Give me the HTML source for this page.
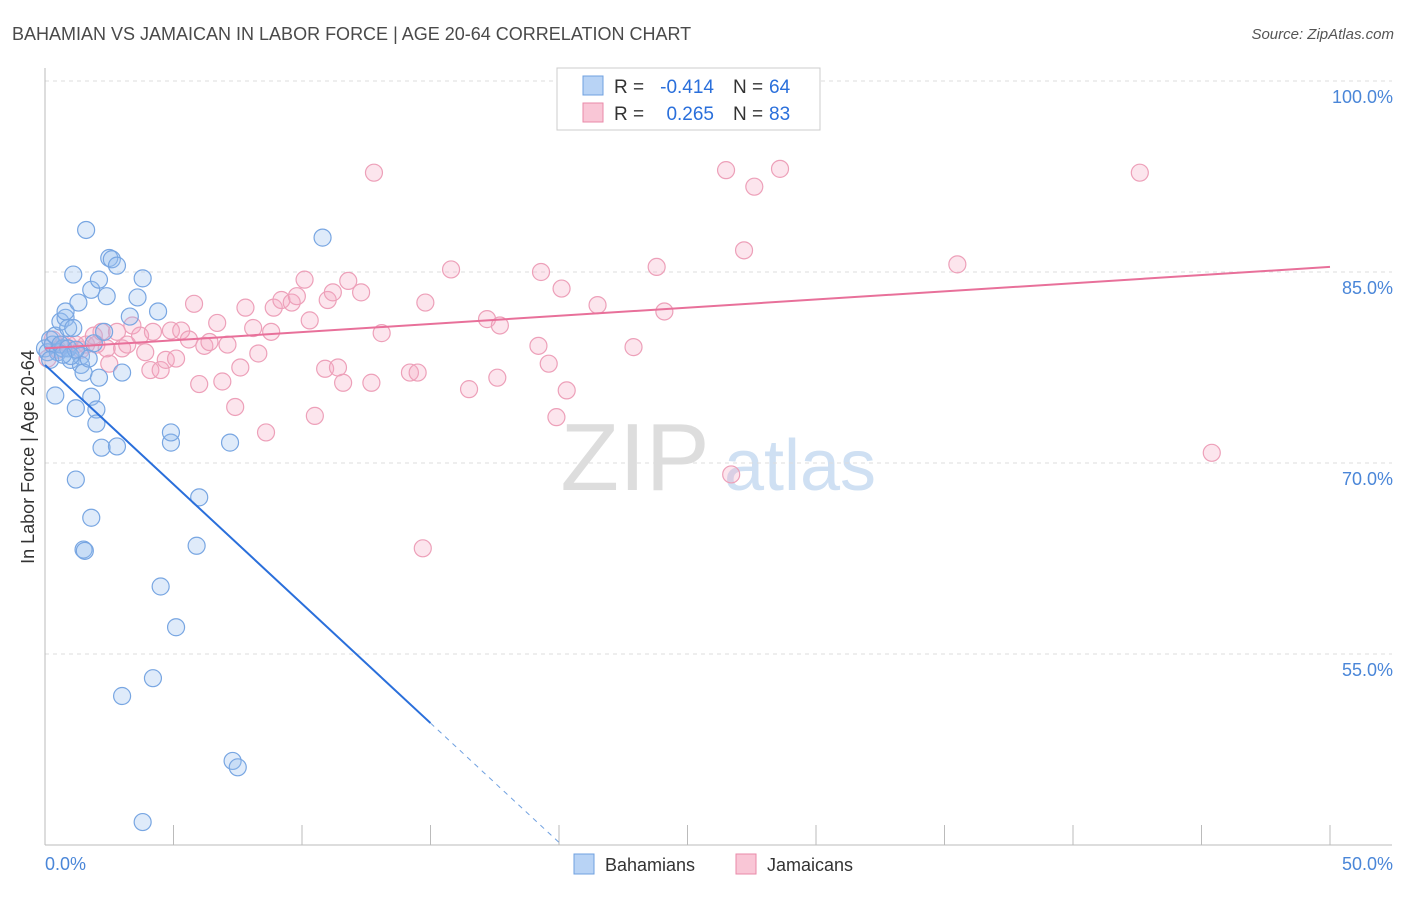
<!DOCTYPE html>
<html><head><meta charset="utf-8"><style>
body{margin:0;background:#fff;font-family:"Liberation Sans",sans-serif}
svg text{font-family:"Liberation Sans",sans-serif}
</style></head><body>
<svg id="chart" width="1406" height="892" xmlns="http://www.w3.org/2000/svg">
<text x="12" y="40" font-size="18" fill="#4a4a4a">BAHAMIAN VS JAMAICAN IN LABOR FORCE | AGE 20-64 CORRELATION CHART</text>
<text x="1394" y="39" font-size="15" font-style="italic" fill="#555" text-anchor="end">Source: ZipAtlas.com</text>
<text transform="translate(34,457) rotate(-90)" font-size="18" fill="#333" text-anchor="middle">In Labor Force | Age 20-64</text>
<g><text x="635" y="490" font-size="96" font-family="Liberation Serif" fill="#ddd" text-anchor="middle">ZIP</text><text x="800" y="490" font-size="72" fill="#cfe0f3" text-anchor="middle">atlas</text></g>
<g id="grid"></g><g id="axes"></g><g id="pts"></g><g id="lines"></g>
<g>
<rect x="557" y="68" width="263" height="62" fill="#fff" stroke="#ccc"/>
<rect x="583" y="76" width="20" height="19" fill="#b8d3f5" stroke="#6fa0e0"/>
<rect x="583" y="103" width="20" height="19" fill="#f9c6d6" stroke="#e98aa8"/>
<text x="614" y="93" font-size="19" fill="#333">R =</text>
<text x="714" y="93" font-size="19" fill="#2a6fdb" text-anchor="end">-0.414</text>
<text x="733" y="93" font-size="19" fill="#333">N =</text>
<text x="769" y="93" font-size="19" fill="#2a6fdb">64</text>
<text x="614" y="120" font-size="19" fill="#333">R =</text>
<text x="714" y="120" font-size="19" fill="#2a6fdb" text-anchor="end">0.265</text>
<text x="733" y="120" font-size="19" fill="#333">N =</text>
<text x="769" y="120" font-size="19" fill="#2a6fdb">83</text>
</g>
<g>
<rect x="574" y="854" width="20" height="20" fill="#b8d3f5" stroke="#6fa0e0"/>
<text x="605" y="871" font-size="18" fill="#333">Bahamians</text>
<rect x="736" y="854" width="20" height="20" fill="#f9c6d6" stroke="#e98aa8"/>
<text x="767" y="871" font-size="18" fill="#333">Jamaicans</text>
</g>
</svg>
<script>
const blueX=[0,0.1,0.2,0.3,0.4,0.5,0.6,0.7,0.8,0.8,0.9,1.0,1.1,1.1,1.2,1.2,1.3,1.4,1.4,1.5,1.5,1.55,1.6,1.7,1.8,1.8,1.8,1.9,2.0,2.0,2.1,2.1,2.2,2.3,2.4,2.5,2.6,2.8,2.8,3.0,3.0,3.3,3.6,3.8,3.8,4.2,4.4,4.5,4.9,4.9,5.1,5.9,6.0,7.2,7.3,7.5,10.8,0.4,0.6,0.9,1.0,1.2,0.2,0.7];
const blueY=[79.0,78.7,79.7,79.3,80.0,78.7,81.1,79.0,81.4,81.9,80.6,78.1,80.6,84.8,74.3,68.7,82.6,78.4,77.7,77.1,63.2,63.1,88.3,78.2,83.6,75.2,65.7,79.4,74.2,73.1,84.4,76.7,71.2,80.3,83.1,86.1,86.0,71.3,85.5,77.1,51.7,81.5,83.0,84.5,41.8,53.1,81.9,60.3,71.6,72.4,57.1,63.5,67.3,71.6,46.6,46.1,87.7,75.3,79.3,79.0,78.4,78.9,78.1,78.5];
const pinkX=[0.1,0.3,0.5,0.7,0.9,1.2,1.4,1.6,1.9,2.0,2.2,2.4,2.5,2.8,3.0,3.2,3.4,3.7,3.9,4.1,4.2,4.5,4.7,4.9,5.1,5.3,5.6,5.8,6.0,6.2,6.4,6.7,6.9,7.1,7.4,7.6,7.8,8.1,8.3,8.6,8.8,8.9,9.2,9.6,9.8,10.1,10.3,10.5,10.9,11.0,11.2,11.4,11.6,11.8,12.3,12.7,12.8,13.1,14.2,14.5,14.7,14.8,15.8,16.5,17.2,17.6,17.7,19.2,19.3,19.6,19.9,20.1,20.3,21.5,22.9,23.8,24.1,26.5,26.7,27.2,27.6,28.6,35.5,42.6,45.4];
const pinkY=[78.2,79.7,78.9,79.3,79.3,79.3,78.9,79.3,80.0,79.3,80.3,79.0,77.8,80.3,79.0,79.3,80.8,80.0,78.7,77.3,80.3,77.3,78.1,80.4,78.2,80.4,79.7,82.5,76.2,79.2,79.5,81.0,76.4,79.3,74.4,77.5,82.2,80.6,78.6,72.4,80.3,82.2,82.8,82.6,83.1,84.4,81.2,73.7,77.4,82.8,83.4,77.5,76.3,84.3,83.4,76.3,92.8,80.2,77.1,77.1,63.3,82.6,85.2,75.8,81.3,76.7,80.8,79.2,85.0,77.8,73.6,83.7,75.7,82.4,79.1,85.4,81.9,93.0,69.1,86.7,91.7,93.1,85.6,92.8,70.8];
const yTicks=[100,85,70,55];
const yTickLabels=["100.0%","85.0%","70.0%","55.0%"];
const xTicks=[0,5,10,15,20,25,30,35,40,45,50];
const blueTrend=[77.7,-1.875];
const pinkTrend=[79.0,0.128];
const X=v=>45+v*25.7, Y=v=>81+(100-v)*12.733;
const NS="http://www.w3.org/2000/svg";
function mk(p,t,a){const e=document.createElementNS(NS,t);for(const k in a)e.setAttribute(k,a[k]);p.appendChild(e);return e;}
const grid=document.getElementById('grid'),axes=document.getElementById('axes'),pts=document.getElementById('pts'),lines=document.getElementById('lines');
yTicks.forEach((t,i)=>{
 const l=mk(grid,'line',{x1:45,x2:1392,y1:Y(t),y2:Y(t),stroke:'#ddd','stroke-dasharray':'4,4'});
 
 
 const tx=mk(axes,'text',{x:1393,y:Y(t)+22,'font-size':18,fill:'#4a86d8','text-anchor':'end'});
 tx.textContent=yTickLabels[i];
 
 
});
mk(axes,'line',{x1:45,x2:45,y1:68,y2:845,stroke:'#bbb'});
mk(axes,'line',{x1:45,x2:1392,y1:845,y2:845,stroke:'#bbb'});
xTicks.forEach(t=>{const l=mk(axes,'line',{x1:X(t),x2:X(t),y1:825,y2:845,stroke:'#bbb'});
 
 });
let t0=mk(axes,'text',{x:45,y:870,'font-size':18,fill:'#4a86d8'});t0.textContent='0.0%';


let t1=mk(axes,'text',{x:1393,y:870,'font-size':18,fill:'#4a86d8','text-anchor':'end'});t1.textContent='50.0%';


pinkX.forEach((x,i)=>{const c=mk(pts,'circle',{cx:X(x),cy:Y(pinkY[i]),r:8.5,fill:'rgba(244,170,196,0.3)',stroke:'#eda0b9','stroke-width':1.2});
 
 });
blueX.forEach((x,i)=>{const c=mk(pts,'circle',{cx:X(x),cy:Y(blueY[i]),r:8.5,fill:'rgba(150,190,240,0.3)',stroke:'#78a6e2','stroke-width':1.2});
 
 });
const bl=mk(lines,'line',{x1:X(0),y1:Y(blueTrend[0]),x2:X(15),y2:Y(blueTrend[0]+blueTrend[1]*15),stroke:'#2a6fdb','stroke-width':2});


const xe=(40-blueTrend[0])/blueTrend[1];
const bd=mk(lines,'line',{x1:X(15),y1:Y(blueTrend[0]+blueTrend[1]*15),x2:X(xe),y2:Y(40),stroke:'#6fa0e0','stroke-width':1,'stroke-dasharray':'5,5'});


const pl=mk(lines,'line',{x1:X(0),y1:Y(pinkTrend[0]),x2:X(50),y2:Y(pinkTrend[0]+pinkTrend[1]*50),stroke:'#e8709a','stroke-width':2});


</script>
</body></html>
